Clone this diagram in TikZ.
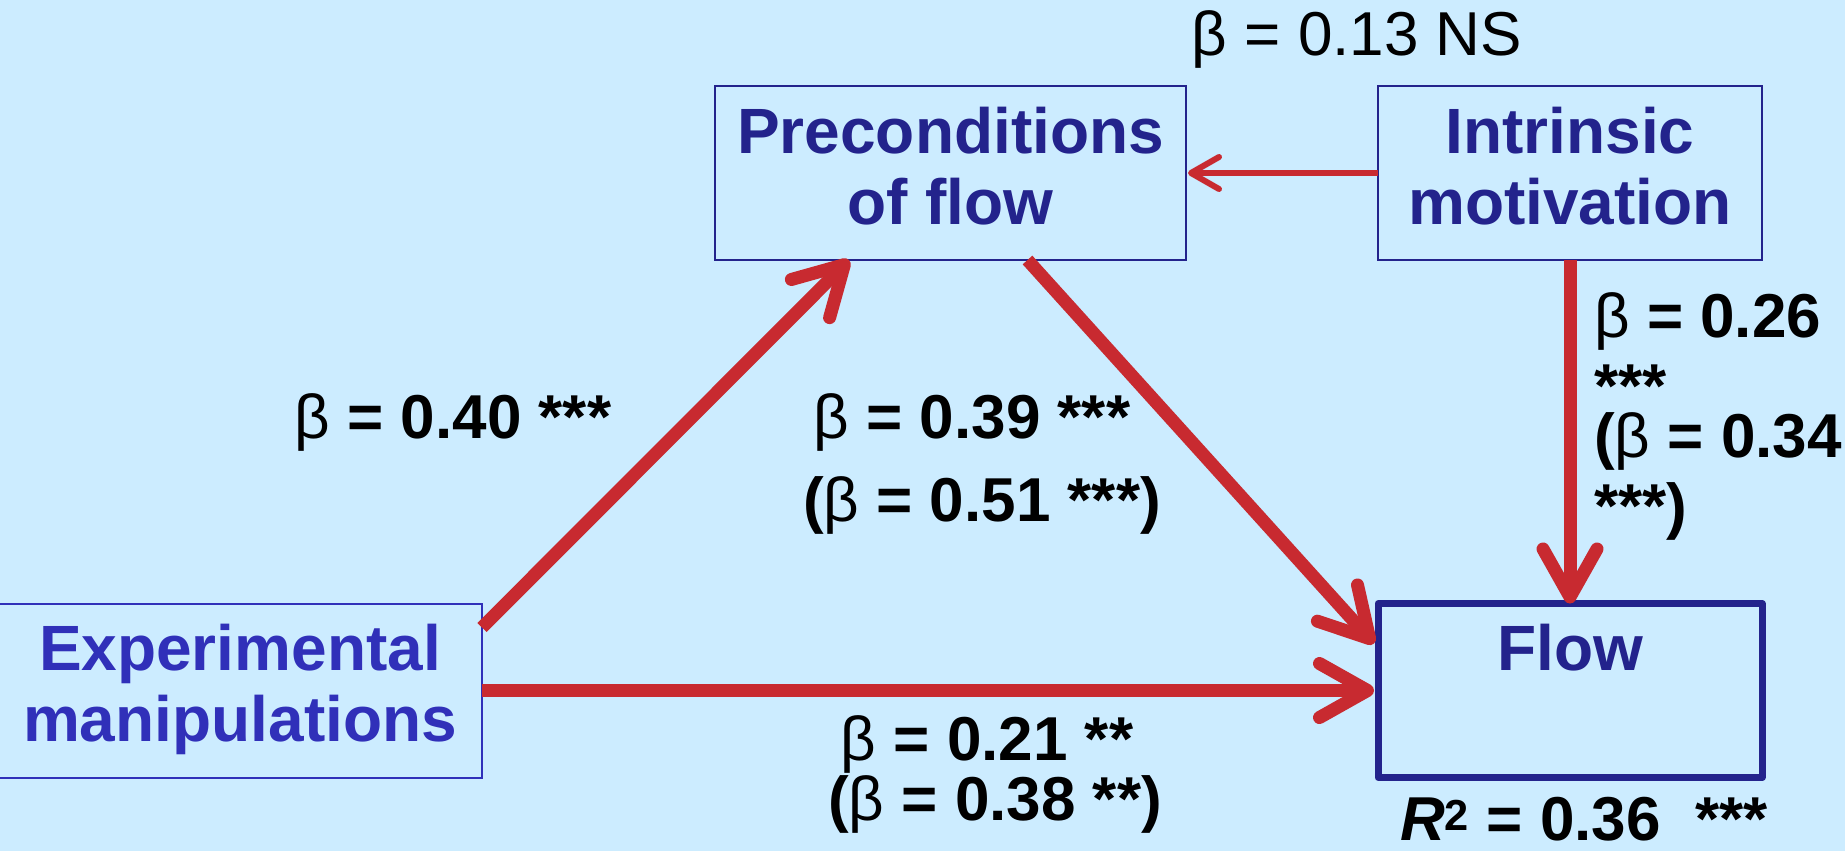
\documentclass[tikz,border=0pt]{standalone}
\usepackage{fontspec}
\setmainfont{Liberation Sans}
\usetikzlibrary{arrows.meta}
\definecolor{bgblue}{RGB}{204,236,255}
\definecolor{navy}{RGB}{35,35,140}
\definecolor{expblue}{RGB}{48,48,185}
\definecolor{pathred}{RGB}{200,42,48}
\newcommand{\bt}{{\mdseries β}}

\begin{document}
\begin{tikzpicture}[x=1pt,y=-1pt,
  box/.style={draw=navy,line width=2pt,outer sep=0pt,inner sep=0pt,align=center,
    text=navy,font=\fontsize{64}{71}\selectfont\bfseries,
    minimum height=174pt,text depth=15pt},
  coef/.style={font=\fontsize{62}{70}\selectfont\bfseries,inner sep=0pt,anchor=base},
  path/.style={draw=pathred,line width=13pt,
    -{Straight Barb[length=48pt,width=54pt,round]}},
  thinpath/.style={draw=pathred,line width=6pt,
    -{Straight Barb[length=28pt,width=32pt,round]}}]
\useasboundingbox[fill=bgblue] (0,0) rectangle (1845,851);
% boxes
\node[box,minimum width=471pt] (pre) at (950.5,173) {Preconditions\\of flow};
\node[box,minimum width=384pt] (intr) at (1570,173) {Intrinsic\\motivation};
\node[box,draw=expblue,text=expblue,minimum width=484pt] (exp) at (240,690.5) {Experimental\\manipulations};
\node[box,line width=7pt,line join=round,minimum width=384pt,text depth=87pt] (flow) at (1570,690.5) {Flow};
% paths
\draw[thinpath] (intr.west) -- ([xshift=2pt]pre.east);
\draw[path] ([yshift=-24pt]exp.north east) -- ([xshift=134pt]pre.south west);
\draw[path] ([xshift=77pt]pre.south) -- ([shift={(-4pt,-40pt)}]flow.north west);
\draw[path] (exp.east) -- ([xshift=-4pt]flow.west);
\draw[path] (intr.south) -- (flow.north);
% coefficients
\node[coef,font=\fontsize{62}{70}\selectfont] (c13) at (1357,56) {β = 0.13 NS};
\node[coef] (c40) at (453,438) {\bt{} = 0.40 ***};
\node[coef] (c39) at (972,438) {\bt{} = 0.39 ***};
\node[coef] (c51) at (982,521) {(\bt{} = 0.51 ***)};
\node[coef] (c21) at (987,760) {\bt{} = 0.21 **};
\node[coef] (c38) at (995,820) {(\bt{} = 0.38 **)};
\node[coef,anchor=base west,align=left] (c26) at (1594,527)
  {\bt{} = 0.26\\***\\[-20pt](\bt{} = 0.34\\***)};
\node[coef,anchor=base west] (r2) at (1400,840) {\textit{R}\textsuperscript{2} = 0.36~~***};
\end{tikzpicture}
\end{document}
